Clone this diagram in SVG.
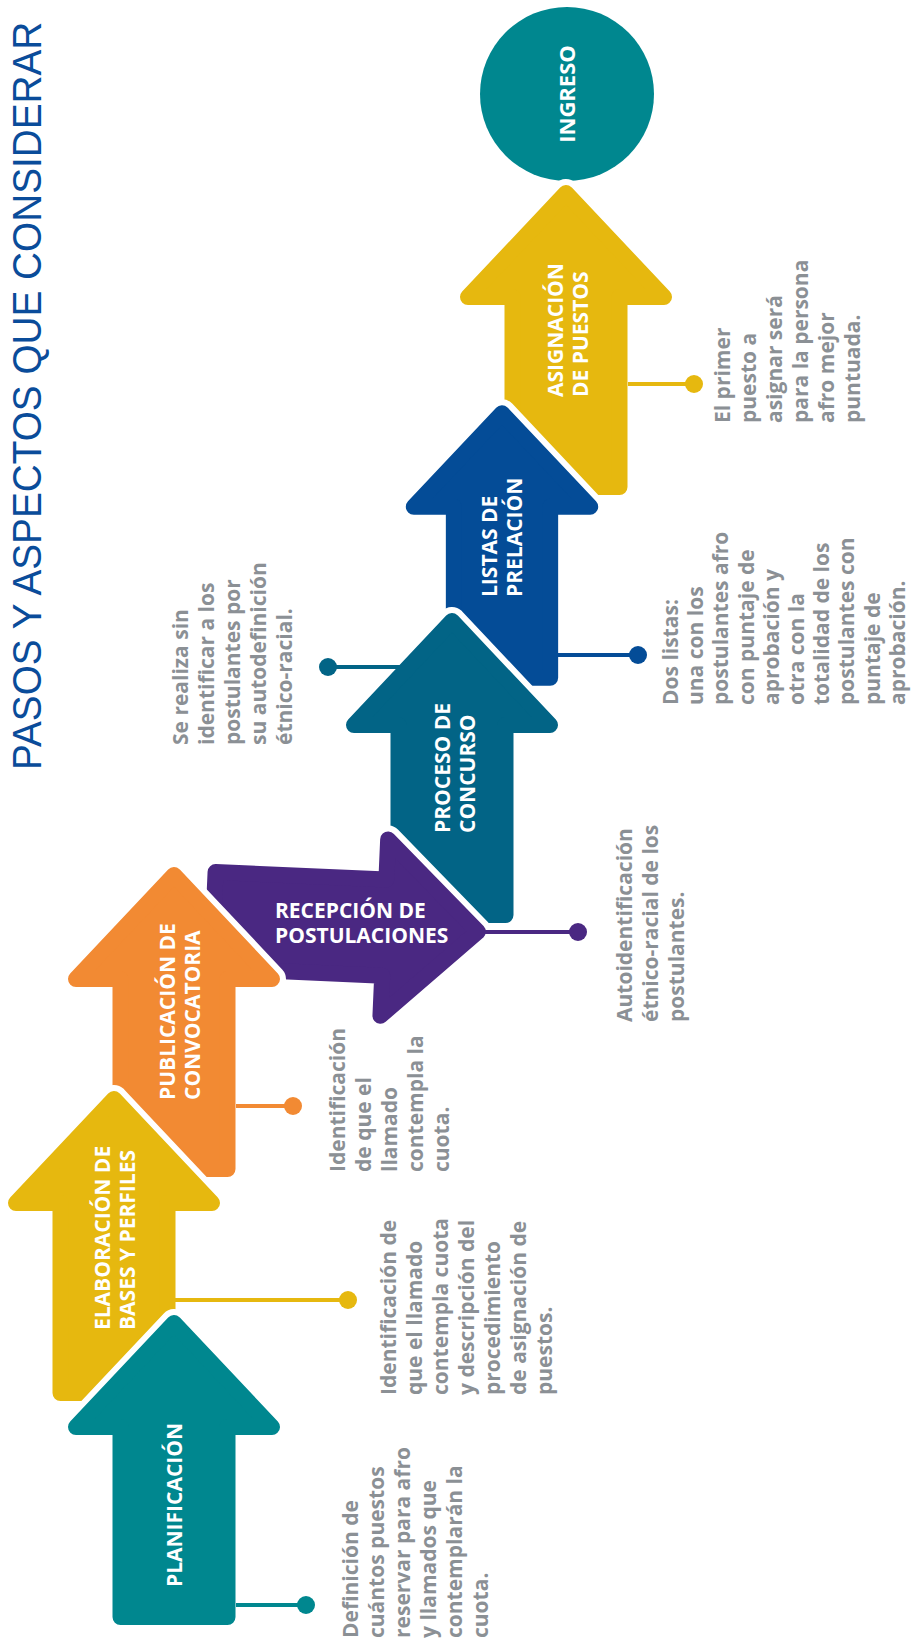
<svg xmlns="http://www.w3.org/2000/svg" xmlns:xlink="http://www.w3.org/1999/xlink" width="911" height="1642" viewBox="0 0 911 1642">
<style>
.halo{fill:#fff;stroke:#fff;stroke-width:28;stroke-linejoin:round}
.body{stroke-width:16;stroke-linejoin:round}
.teal{fill:#00878f;stroke:#00878f}
.yellow{fill:#e6b80f;stroke:#e6b80f}
.orange{fill:#f28a33;stroke:#f28a33}
.purple{fill:#4a2882;stroke:#4a2882}
.petrol{fill:#026486;stroke:#026486}
.blue{fill:#044c97;stroke:#044c97}
.lbl{font-family:"Open Sans","Liberation Sans",sans-serif;font-weight:700;font-size:21px;fill:#fff}
.desc{font-family:"Open Sans","Liberation Sans",sans-serif;font-weight:700;font-size:21px;fill:#8b9095}
.title{font-family:"Liberation Sans",Arial,sans-serif;font-size:41px;fill:#0a4c9a}
.conn path{fill:none;stroke-width:4}
</style>
<defs>
<path id="arrow" vector-effect="non-scaling-stroke" d="M0,8 L98,112 L53.5,112 L53.5,302 L-53.5,302 L-53.5,112 L-98,112 Z"/>
</defs>
<rect width="911" height="1642" fill="#fff"/>

<text class="title" transform="translate(41,770) rotate(-90) scale(0.945,1)">PASOS Y ASPECTOS QUE CONSIDERAR</text>

<g id="node-ingreso">
<circle cx="567" cy="94" r="87" fill="#00878f"/>
<text class="lbl" style="font-size:22px" text-anchor="middle" transform="translate(575,94) rotate(-90)">INGRESO</text>
</g>

<g id="node-asignacion">
<use href="#arrow" class="halo" transform="translate(566,185)"/>
<use href="#arrow" class="body yellow" transform="translate(566,185)"/>
<text class="lbl" transform="translate(563,397) rotate(-90)"><tspan x="0" y="0">ASIGNACIÓN</tspan><tspan x="0" y="25">DE PUESTOS</tspan></text>
</g>

<g id="node-listas">
<use href="#arrow" class="halo" transform="translate(502,406) scale(0.9)"/>
<use href="#arrow" class="body blue" transform="translate(502,406) scale(0.9)"/>
<text class="lbl" transform="translate(497,597) rotate(-90)"><tspan x="0" y="0">LISTAS DE</tspan><tspan x="0" y="25">PRELACIÓN</tspan></text>
</g>

<g id="node-proceso">
<use href="#arrow" class="halo" transform="translate(452,613)"/>
<use href="#arrow" class="body petrol" transform="translate(452,613)"/>
<text class="lbl" transform="translate(450,833) rotate(-90)"><tspan x="0" y="0">PROCESO DE</tspan><tspan x="0" y="25">CONCURSO</tspan></text>
</g>

<g id="node-recepcion">
<use href="#arrow" class="halo" transform="translate(485,932) rotate(92.5) scale(0.9)"/>
<use href="#arrow" class="body purple" transform="translate(485,932) rotate(92.5) scale(0.9)"/>
<text class="lbl"><tspan x="275" y="918">RECEPCIÓN DE</tspan><tspan x="275" y="943">POSTULACIONES</tspan></text>
</g>

<g id="node-publicacion">
<use href="#arrow" class="halo" transform="translate(174,867)"/>
<use href="#arrow" class="body orange" transform="translate(174,867)"/>
<text class="lbl" transform="translate(175,1100) rotate(-90)"><tspan x="0" y="0">PUBLICACIÓN DE</tspan><tspan x="0" y="25">CONVOCATORIA</tspan></text>
</g>

<g id="node-elaboracion">
<use href="#arrow" class="halo" transform="translate(114,1091)"/>
<use href="#arrow" class="body yellow" transform="translate(114,1091)"/>
<text class="lbl" transform="translate(110,1330) rotate(-90)"><tspan x="0" y="0">ELABORACIÓN DE</tspan><tspan x="0" y="25">BASES Y PERFILES</tspan></text>
</g>

<g id="node-planificacion">
<use href="#arrow" class="halo" transform="translate(174,1315)"/>
<use href="#arrow" class="body teal" transform="translate(174,1315)"/>
<text class="lbl" text-anchor="middle" transform="translate(182,1505) rotate(-90)">PLANIFICACIÓN</text>
</g>

<g id="connectors" class="conn">
<path d="M236,1605 H306" stroke="#00878f"/><circle cx="306" cy="1605" r="9" fill="#00878f"/>
<path d="M175,1300 H348" stroke="#e6b80f"/><circle cx="348" cy="1300" r="9" fill="#e6b80f"/>
<path d="M236,1106 H293" stroke="#f28a33"/><circle cx="293" cy="1106" r="9" fill="#f28a33"/>
<path d="M485,932 H578" stroke="#4a2882"/><circle cx="578" cy="932" r="9" fill="#4a2882"/>
<path d="M328,667 H401" stroke="#026486"/><circle cx="328" cy="667" r="9" fill="#026486"/>
<path d="M557,655 H638" stroke="#044c97"/><circle cx="638" cy="655" r="9" fill="#044c97"/>
<path d="M628,384 H694" stroke="#e6b80f"/><circle cx="694" cy="384" r="9" fill="#e6b80f"/>
</g>

<g id="desc-planificacion">
<text class="desc" transform="translate(358,1638) rotate(-90)"><tspan x="0" y="0">Definición de</tspan><tspan x="0" y="26">cuántos puestos</tspan><tspan x="0" y="52">reservar para afro</tspan><tspan x="0" y="78">y llamados que</tspan><tspan x="0" y="104">contemplarán la</tspan><tspan x="0" y="130">cuota.</tspan></text>
</g>
<g id="desc-elaboracion">
<text class="desc" transform="translate(396,1395) rotate(-90)"><tspan x="0" y="0">Identificación de</tspan><tspan x="0" y="26">que el llamado</tspan><tspan x="0" y="52">contempla cuota</tspan><tspan x="0" y="78">y descripción del</tspan><tspan x="0" y="104">procedimiento</tspan><tspan x="0" y="130">de asignación de</tspan><tspan x="0" y="156">puestos.</tspan></text>
</g>
<g id="desc-publicacion">
<text class="desc" transform="translate(345,1172) rotate(-90)"><tspan x="0" y="0">Identificación</tspan><tspan x="0" y="26">de que el</tspan><tspan x="0" y="52">llamado</tspan><tspan x="0" y="78">contempla la</tspan><tspan x="0" y="104">cuota.</tspan></text>
</g>
<g id="desc-recepcion">
<text class="desc" transform="translate(632,1022) rotate(-90)"><tspan x="0" y="0">Autoidentificación</tspan><tspan x="0" y="26">étnico-racial de los</tspan><tspan x="0" y="52">postulantes.</tspan></text>
</g>
<g id="desc-proceso">
<text class="desc" transform="translate(188,745) rotate(-90)"><tspan x="0" y="0">Se realiza sin</tspan><tspan x="0" y="26">identificar a los</tspan><tspan x="0" y="52">postulantes por</tspan><tspan x="0" y="78">su autodefinición</tspan><tspan x="0" y="104">étnico-racial.</tspan></text>
</g>
<g id="desc-listas">
<text class="desc" transform="translate(678,705) rotate(-90)"><tspan x="0" y="0">Dos listas:</tspan><tspan x="0" y="25.2">una con los</tspan><tspan x="0" y="50.4">postulantes afro</tspan><tspan x="0" y="75.6">con puntaje de</tspan><tspan x="0" y="100.8">aprobación y</tspan><tspan x="0" y="126">otra con la</tspan><tspan x="0" y="151.2">totalidad de los</tspan><tspan x="0" y="176.4">postulantes con</tspan><tspan x="0" y="201.6">puntaje de</tspan><tspan x="0" y="226.8">aprobación.</tspan></text>
</g>
<g id="desc-asignacion">
<text class="desc" transform="translate(730,423) rotate(-90)"><tspan x="0" y="0">El primer</tspan><tspan x="0" y="26">puesto a</tspan><tspan x="0" y="52">asignar será</tspan><tspan x="0" y="78">para la persona</tspan><tspan x="0" y="104">afro mejor</tspan><tspan x="0" y="130">puntuada.</tspan></text>
</g>
</svg>
